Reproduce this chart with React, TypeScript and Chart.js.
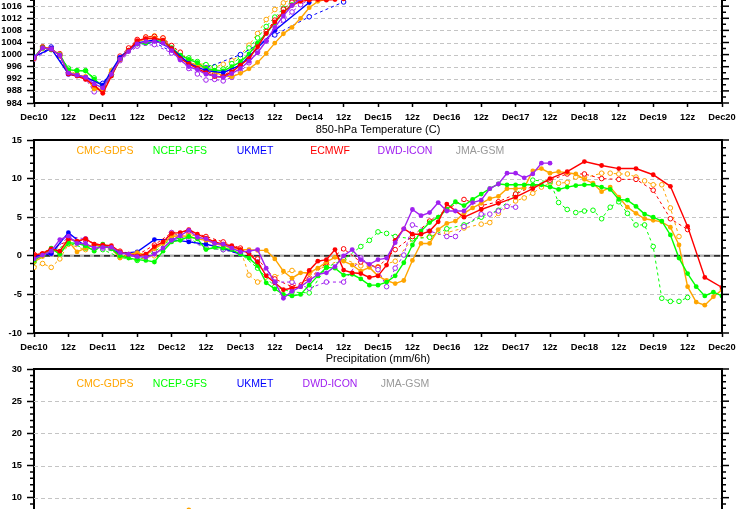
import React, { useEffect, useRef } from 'react';
import { Chart, registerables } from 'chart.js';

Chart.register(...registerables);

const _ = null;
const FONT = "'Liberation Sans', Arial, Helvetica, sans-serif";

// ---------- axis / legend text ----------
const TICK_LABELS = ['Dec10', '12z', 'Dec11', '12z', 'Dec12', '12z', 'Dec13', '12z', 'Dec14', '12z', 'Dec15', '12z', 'Dec16', '12z', 'Dec17', '12z', 'Dec18', '12z', 'Dec19', '12z', 'Dec20'];
const TEMP_TITLE = '850-hPa Temperature (C)';
const PRECIP_TITLE = 'Precipitation (mm/6h)';
const MODEL_NAMES = ['CMC-GDPS', 'NCEP-GFS', 'UKMET', 'ECMWF', 'DWD-ICON', 'JMA-GSM'];
const MODEL_COLORS = ['#FFA500', '#00FF00', '#0000FF', '#FF0000', '#A020F0', '#999999'];
const PRECIP_MODELS = ['CMC-GDPS', 'NCEP-GFS', 'UKMET', 'DWD-ICON', 'JMA-GSM'];
const PRECIP_COLORS = ['#FFA500', '#00FF00', '#0000FF', '#A020F0', '#999999'];

// ---------- sea-level pressure (hPa), 3-hourly from Dec10 00z ----------
const P_CMC = [998.6, 1002.5, 1001.8, 1000.0, 994.2, 993.2, 992.8, 988.6, 988.2, 994.8, 998.3, 1001.5, 1004.2, 1005.2, 1005.5, 1004.8, 1001.8, 999.0, 997.4, 996.5, 995.5, 994.3, 993.0, 992.7, 993.8, 995.3, 997.4, 1000.4, 1003.8, 1006.9, 1009.0, 1012.0, 1015.5, 1017.6, 1018.3];
const P_CMC_PREV = [998.8, 1002.0, 1002.0, 999.5, 994.8, 993.5, 992.3, 989.0, 988.8, 994.0, 999.0, 1001.8, 1004.5, 1005.8, 1006.2, 1005.5, 1002.8, 1000.0, 998.5, 997.2, 996.5, 995.8, 996.8, 998.0, 999.8, 1003.1, 1007.0, 1011.6, 1014.9, 1017.1, 1018.4];
const P_GFS = [999.0, 1002.5, 1001.5, 1000.0, 995.0, 994.7, 994.6, 991.9, 989.5, 993.0, 998.5, 1001.3, 1003.5, 1003.9, 1004.6, 1004.5, 1002.3, 999.8, 998.4, 997.3, 995.4, 994.9, 994.6, 996.0, 997.6, 1000.2, 1003.9, 1007.0, 1010.5, 1014.0, 1016.5, 1018.2];
const P_GFS_PREV = [998.8, 1002.2, 1001.8, 999.8, 995.5, 994.7, 994.7, 992.3, 989.5, 993.5, 999.0, 1001.8, 1003.2, 1003.8, 1004.2, 1004.2, 1002.0, 1000.0, 998.9, 997.7, 996.7, 996.0, 995.2, 997.0, 999.0, 1002.2, 1005.5, 1009.3, 1012.4, 1015.3, 1017.7, 1018.8];
const P_ECMWF = [998.7, 1002.3, 1001.7, 999.8, 993.6, 992.9, 991.8, 989.9, 987.2, 992.9, 998.4, 1001.5, 1004.6, 1005.3, 1005.3, 1004.8, 1002.0, 998.7, 996.9, 995.4, 994.0, 992.7, 992.7, 994.3, 996.5, 998.7, 1002.6, 1007.0, 1010.8, 1014.1, 1016.3, 1017.6, 1018.0, 1018.2, 1018.0, 1018.2, 1018.4];
const P_ECMWF_PREV = [998.9, 1002.6, 1002.0, 1000.3, 994.0, 993.3, 992.2, 989.6, 988.0, 993.5, 999.5, 1002.2, 1005.0, 1005.8, 1006.0, 1005.5, 1003.0, 1000.8, 998.0, 996.0, 994.5, 993.5, 993.0, 994.8, 997.0, 999.5, 1003.5, 1007.6, 1011.4, 1015.0, 1017.3, 1018.5];
const P_ICON = [998.9, 1002.2, 1001.8, 999.8, 993.9, 993.2, 992.5, 990.3, 989.0, 993.5, 998.5, 1001.0, 1003.5, 1004.3, 1004.3, 1003.8, 1001.3, 998.2, 996.0, 995.0, 993.5, 993.0, 992.4, 993.7, 995.4, 997.8, 1000.6, 1004.5, 1009.0, 1012.8, 1016.2, 1018.5];
const P_ICON_PREV = [998.5, _, 1002.0, _, 993.5, _, 992.0, 987.7, 988.5, _, 998.0, _, 1002.8, _, 1003.3, _, 1000.5, 998.5, 995.4, 993.6, 991.6, 991.8, 991.3, 992.5, 994.3, 997.3, 1000.9, 1004.5, 1008.0, 1011.4, 1014.1, 1016.5, 1018.2];
// UKMET is 6-hourly
const P_UKMET = [999.3, 1002.0, 993.6, 992.5, 989.9, 999.1, 1003.9, 1004.8, 1002.0, 997.1, 994.7, 994.0, 996.5, _, 1008.0, _, 1017.2];
const P_UKMET_PREV = [999.0, 1002.5, 994.0, 992.3, 990.5, 998.5, 1003.3, 1004.0, 1001.0, 997.0, 995.6, _, 1000.0, _, 1006.5, _, 1012.5, _, 1017.4];

// ---------- 850-hPa temperature (C), 3-hourly from Dec10 00z ----------
const T_CMC = [-0.8, -0.1, 0.9, 0.3, 1.9, 0.5, 1.0, 1.5, 1.2, 1.0, -0.3, 0.2, 0.4, 0.1, 0.9, 1.6, 2.5, 2.6, 2.5, 2.2, 2.0, 1.6, 1.3, 1.0, 0.8, 0.8, 0.7, 0.7, -0.4, -2.0, -2.9, -2.2, -2.2, -1.6, -0.8, -0.2, -0.7, -1.2, -2.0, -1.5, -2.6, -3.2, -3.6, -3.2, -0.6, 1.6, 1.6, 3.4, 4.2, 4.5, 5.5, 6.2, 6.8, 7.4, 7.7, 8.7, 8.7, 8.8, 11.0, 11.3, 10.7, 10.9, 10.75, 10.6, 9.9, 9.4, 8.3, 8.9, 7.6, 6.3, 5.5, 4.8, 4.6, 4.4, 3.7, 1.4, -4.0, -6.0, -6.4, -5.3, -4.4];
const T_CMC_PREV = [-1.5, -1.0, -1.5, -0.4, 1.5, _, 0.8, _, 1.3, _, 0.0, _, -0.5, _, 0.0, _, 2.7, _, 2.8, _, 2.2, _, 1.5, _, 0.8, -2.5, -3.4, _, -2.7, _, -1.9, _, -2.3, _, -1.3, _, -0.4, _, -1.3, _, -1.4, _, -0.7, _, 2.2, _, 2.5, _, 3.0, _, 3.6, _, 4.1, 4.3, 5.5, _, 7.1, 7.5, 8.1, 8.9, 9.4, 9.4, 9.5, 10.2, 10.1, _, 10.7, 10.7, 10.6, 10.6, 10.2, 9.7, 9.2, 9.2, 6.2, 2.5];
const T_GFS = [-0.6, 0.1, 1.0, 0.2, 1.7, 1.6, 1.3, 0.6, 1.5, 0.9, 0.0, -0.3, -0.5, -0.6, -0.8, 0.6, 1.8, 2.0, 2.5, 2.2, 0.8, 1.1, 1.0, 0.8, 0.2, -0.3, -1.3, -3.5, -4.3, -5.0, -5.2, -5.0, -3.8, -2.6, -1.5, -1.6, -2.5, -2.4, -3.0, -3.8, -3.8, -3.4, -2.6, -0.9, 1.4, 3.2, 4.3, 5.0, 6.0, 7.0, 6.5, 7.3, 8.0, 8.7, 9.3, 9.2, 9.2, 9.2, 9.2, 9.2, 8.9, 8.6, 8.9, 9.1, 9.2, 9.2, 8.9, 8.6, 7.3, 7.2, 6.4, 5.4, 5.0, 4.5, 2.7, -0.3, -2.3, -4.0, -5.2, -4.7, -5.2];
const T_GFS_PREV = [-0.8, _, 0.5, _, 1.6, _, 1.0, _, 0.8, _, -0.2, _, -0.6, _, 0.5, _, 2.2, _, 2.3, _, 1.0, _, 0.8, _, 0.3, _, -1.6, _, -4.0, _, -4.7, _, -4.8, _, -1.5, _, -0.5, _, 1.2, 2.0, 3.1, 2.9, 2.5, _, 2.2, _, 2.4, _, 3.5, _, 4.0, _, 5.0, _, 5.9, _, 8.0, _, 9.8, _, 9.6, 6.9, 6.0, 5.6, 5.8, 5.9, 4.8, 6.3, 7.0, 5.5, 4.0, 4.0, 1.2, -5.5, -5.9, -5.9, -5.4];
const T_ECMWF = [0.1, 0.3, 0.9, 0.6, 2.2, 1.9, 2.2, 1.5, 1.4, 1.3, 0.5, 0.2, 0.0, 0.2, 1.2, 1.8, 2.9, 3.0, 3.4, 2.8, 2.3, 1.8, 1.5, 1.3, 0.8, 0.3, -0.8, -2.6, -3.5, -4.4, -4.2, -4.0, -1.9, -0.7, -0.5, 0.8, -1.85, -2.2, -2.3, -2.8, -2.6, -1.2, 2.0, 3.5, 2.8, 2.8, 3.2, 4.4, 6.7, _, 5.0, _, 6.0, _, 6.8, _, 7.6, _, 8.7, _, 10.0, _, 10.9, _, 12.2, _, 11.7, _, 11.3, _, 11.3, _, 10.5, _, 9.0, _, 3.8, _, -2.8, _, -4.1];
// previous ECMWF run, 6-hourly
const T_ECMWF_PREV = [0.2, 0.8, 2.0, 2.0, 1.3, 0.6, 0.1, 1.4, 3.0, 3.2, 2.5, 1.8, 1.0, -0.4, -3.0, -4.0, -3.0, -0.9, 0.9, -0.8, -1.5, 0.8, 2.5, 4.5, 6.0, 7.3, 6.5, 7.0, 8.0, 9.0, 9.8, 10.6, 10.6, 10.0, 9.9, 9.9, 8.5, 4.8, 3.4];
const T_ICON = [-0.4, 0.1, 0.6, 2.1, 2.55, 1.6, 1.6, 1.0, 1.1, 1.1, 0.4, 0.2, -0.1, -0.2, 0.2, 1.0, 2.0, 2.6, 3.3, 2.4, 2.2, 1.6, 1.5, 1.0, 0.5, 0.6, 0.8, -1.6, -3.4, -5.5, -4.6, -4.0, -3.2, -2.4, -2.2, -1.4, 0.0, 0.8, -0.5, -1.1, -0.5, -0.3, 1.7, 3.5, 6.0, 5.2, 5.6, 6.9, 5.8, 5.8, 5.8, 6.9, 7.2, 8.7, 9.3, 10.7, 10.7, 10.1, 10.6, 12.0, 12.0];
const T_ICON_PREV = [-0.2, _, 0.3, _, 2.5, _, 2.2, _, 1.0, _, 0.3, _, -0.2, _, 0.7, _, 3.0, _, 2.0, _, 1.0, _, 0.8, _, 0.2, _, -0.8, _, -3.4, _, -3.4, _, -4.2, _, -3.4, _, -3.4, _, -0.3, _, -1.8, -4.0, -1.6, 0.1, 4.0, _, 3.2, _, 2.5, 2.5, 3.8, _, 5.4, 5.4, 5.8, 6.4, 6.3];
// UKMET is 6-hourly
const T_UKMET = [-0.1, 0.3, 3.0, 1.2, 1.4, 0.3, 0.5, 2.1, 2.1, 1.8, 1.5, 1.0, 0.2];

// ---------- precipitation (mm/6h), 6-hourly ----------
const PRECIP_CMC = [_, _, _, _, _, _, _, _, _, 8.1];

type V = number | null;
function pts(vals: V[], stepHours: number) {
  const out: { x: number; y: number }[] = [];
  vals.forEach((v, i) => {
    if (v !== null && v !== undefined) out.push({ x: i * stepHours, y: v });
  });
  return out;
}

function solid(label: string, color: string, vals: V[], step: number) {
  return {
    label,
    data: pts(vals, step),
    borderColor: color,
    backgroundColor: color,
    borderWidth: 1.4,
    pointRadius: 2.4,
    pointBackgroundColor: color,
    pointBorderColor: color,
    pointBorderWidth: 0,
    tension: 0,
    fill: false,
  };
}

function dashed(label: string, color: string, vals: V[], step: number) {
  return {
    label,
    data: pts(vals, step),
    borderColor: color,
    backgroundColor: '#ffffff',
    borderWidth: 1,
    borderDash: [3, 3],
    pointRadius: 2.3,
    pointBackgroundColor: '#ffffff',
    pointBorderColor: color,
    pointBorderWidth: 1,
    tension: 0,
    fill: false,
  };
}

// bottom -> top drawing order
function ordered(list: any[]) {
  return list.map((d, i) => ({ ...d, order: list.length - i }));
}

const [C_CMC, C_GFS, C_UK, C_EC, C_ICON] = MODEL_COLORS;

const pressureSets = ordered([
  dashed('CMC-GDPS prev', C_CMC, P_CMC_PREV, 3),
  dashed('NCEP-GFS prev', C_GFS, P_GFS_PREV, 3),
  dashed('UKMET prev', C_UK, P_UKMET_PREV, 6),
  dashed('ECMWF prev', C_EC, P_ECMWF_PREV, 3),
  dashed('DWD-ICON prev', C_ICON, P_ICON_PREV, 3),
  solid('CMC-GDPS', C_CMC, P_CMC, 3),
  solid('NCEP-GFS', C_GFS, P_GFS, 3),
  solid('UKMET', C_UK, P_UKMET, 6),
  solid('ECMWF', C_EC, P_ECMWF, 3),
  solid('DWD-ICON', C_ICON, P_ICON, 3),
]);

const tempSets = ordered([
  dashed('CMC-GDPS prev', C_CMC, T_CMC_PREV, 3),
  dashed('NCEP-GFS prev', C_GFS, T_GFS_PREV, 3),
  dashed('ECMWF prev', C_EC, T_ECMWF_PREV, 6),
  dashed('DWD-ICON prev', C_ICON, T_ICON_PREV, 3),
  solid('UKMET', C_UK, T_UKMET, 6),
  solid('CMC-GDPS', C_CMC, T_CMC, 3),
  solid('NCEP-GFS', C_GFS, T_GFS, 3),
  solid('ECMWF', C_EC, T_ECMWF, 3),
  solid('DWD-ICON', C_ICON, T_ICON, 3),
]);

const precipSets = ordered([solid('CMC-GDPS', C_CMC, PRECIP_CMC, 6)]);

// ---------- plugins: frame / gridlines / minor ticks, and in-plot legend text ----------
const framePlugin = {
  id: 'frame',
  beforeDatasetsDraw(chart: any, _a: any, opts: any) {
    const { ctx, chartArea: a } = chart;
    const y = chart.scales.y;
    ctx.save();
    ctx.lineWidth = 1;
    ctx.strokeStyle = '#c4c4c4';
    ctx.setLineDash([4, 3]);
    for (const t of y.ticks) {
      if (t.value <= y.min || t.value >= y.max) continue;
      if (opts.zeroLine && t.value === 0) continue;
      const py = Math.round(y.getPixelForValue(t.value)) + 0.5;
      ctx.beginPath();
      ctx.moveTo(a.left, py);
      ctx.lineTo(a.right, py);
      ctx.stroke();
    }
    if (opts.zeroLine) {
      const py = y.getPixelForValue(0);
      ctx.setLineDash([]);
      ctx.strokeStyle = '#b4b4b4';
      ctx.lineWidth = 2.5;
      ctx.beginPath();
      ctx.moveTo(a.left, py);
      ctx.lineTo(a.right, py);
      ctx.stroke();
      ctx.setLineDash([6, 4]);
      ctx.strokeStyle = '#000';
      ctx.lineWidth = 1.2;
      ctx.beginPath();
      ctx.moveTo(a.left, py);
      ctx.lineTo(a.right, py);
      ctx.stroke();
    }
    ctx.restore();
  },
  afterDraw(chart: any, _a: any, opts: any) {
    const { ctx, chartArea: a } = chart;
    const y = chart.scales.y;
    ctx.save();
    ctx.strokeStyle = '#000';
    ctx.lineWidth = 2;
    ctx.beginPath();
    ctx.moveTo(a.left - 1, a.top);
    ctx.lineTo(a.right, a.top);
    ctx.lineTo(a.right, a.bottom + 1);
    ctx.stroke();
    ctx.lineWidth = 1.5;
    const major = y.options.ticks.stepSize;
    const minor = opts.minor;
    const n = Math.round((y.max - y.min) / minor);
    for (let k = 0; k <= n; k++) {
      const v = y.min + k * minor;
      const py = y.getPixelForValue(v);
      const r = v / major;
      const isMajor = Math.abs(r - Math.round(r)) < 1e-6;
      ctx.beginPath();
      if (isMajor) {
        ctx.moveTo(a.right, py);
        ctx.lineTo(a.right + 7, py);
      } else {
        ctx.moveTo(a.left - 4, py);
        ctx.lineTo(a.left, py);
        ctx.moveTo(a.right, py);
        ctx.lineTo(a.right + 4, py);
      }
      ctx.stroke();
    }
    ctx.restore();
  },
};

const legendTextPlugin = {
  id: 'legendText',
  afterDatasetsDraw(chart: any, _a: any, opts: any) {
    if (!opts || !opts.labels || !opts.labels.length) return;
    const { ctx, chartArea: a } = chart;
    ctx.save();
    ctx.font = `10.5px ${FONT}`;
    ctx.textAlign = 'center';
    ctx.textBaseline = 'middle';
    opts.labels.forEach((t: string, k: number) => {
      ctx.fillStyle = opts.colors[k];
      ctx.fillText(t, a.left + 71 + 75 * k, a.top + opts.dy);
    });
    ctx.restore();
  },
};

type Opt = {
  datasets: any[];
  yMin: number;
  yMax: number;
  yStep: number;
  minor: number;
  title?: string;
  zeroLine?: boolean;
  legend?: string[];
  legendColors?: string[];
  legendDy?: number;
  padTop: number;
  xHeight: number;
};

function makeConfig(o: Opt): any {
  const tickFont = { family: FONT, size: 9.3, weight: 'bold' as const };
  return {
    type: 'line',
    data: { datasets: o.datasets },
    options: {
      responsive: false,
      animation: false,
      events: [],
      layout: { padding: { top: o.padTop, right: 14, left: 0, bottom: 0 } },
      plugins: {
        legend: { display: false },
        tooltip: { enabled: false },
        title: o.title
          ? {
              display: true,
              text: o.title,
              fullSize: false,
              color: '#000',
              font: { family: FONT, size: 11, weight: 'normal' },
              padding: { top: 13.8, bottom: 3 },
            }
          : { display: false },
        frame: { minor: o.minor, zeroLine: !!o.zeroLine },
        legendText: { labels: o.legend || [], colors: o.legendColors || [], dy: o.legendDy || 0 },
      },
      scales: {
        x: {
          type: 'linear',
          min: 0,
          max: 240,
          afterFit: (s: any) => {
            s.height = o.xHeight;
            s.paddingLeft = 0;
            s.paddingRight = 0;
          },
          grid: { display: true, drawOnChartArea: false, drawTicks: true, tickLength: 4, tickColor: '#000', tickWidth: 1.5 },
          border: { display: true, color: '#000', width: 2 },
          ticks: {
            stepSize: 12,
            maxTicksLimit: 100,
            autoSkip: false,
            maxRotation: 0,
            minRotation: 0,
            padding: 5,
            color: '#000',
            font: tickFont,
            callback: (v: number) => TICK_LABELS[Math.round(v / 12)] ?? '',
          },
        },
        y: {
          type: 'linear',
          min: o.yMin,
          max: o.yMax,
          afterFit: (s: any) => {
            s.width = 34;
            s.paddingTop = 0;
            s.paddingBottom = 0;
          },
          grid: { display: true, drawOnChartArea: false, drawTicks: true, tickLength: 7, tickColor: '#000', tickWidth: 1.5 },
          border: { display: true, color: '#000', width: 2 },
          ticks: {
            stepSize: o.yStep,
            maxTicksLimit: 100,
            autoSkip: false,
            padding: 5,
            color: '#000',
            font: tickFont,
            callback: (v: number) => String(v),
          },
        },
      },
      elements: { line: { tension: 0 } },
    },
    plugins: [framePlugin, legendTextPlugin],
  };
}

export default function App() {
  const r1 = useRef<HTMLCanvasElement>(null);
  const r2 = useRef<HTMLCanvasElement>(null);
  const r3 = useRef<HTMLCanvasElement>(null);

  useEffect(() => {
    document.body.style.margin = '0';
    const charts: Chart[] = [];
    charts.push(
      new Chart(
        r1.current as HTMLCanvasElement,
        makeConfig({ datasets: pressureSets, yMin: 984, yMax: 1024, yStep: 4, minor: 2, padTop: 12, xHeight: 27 })
      )
    );
    charts.push(
      new Chart(
        r2.current as HTMLCanvasElement,
        makeConfig({
          datasets: tempSets,
          yMin: -10,
          yMax: 15,
          yStep: 5,
          minor: 1,
          title: TEMP_TITLE,
          zeroLine: true,
          legend: MODEL_NAMES,
          legendColors: MODEL_COLORS,
          legendDy: 11,
          padTop: 0,
          xHeight: 24,
        })
      )
    );
    charts.push(
      new Chart(
        r3.current as HTMLCanvasElement,
        makeConfig({
          datasets: precipSets,
          yMin: 0,
          yMax: 30,
          yStep: 5,
          minor: 1,
          title: PRECIP_TITLE,
          legend: PRECIP_MODELS,
          legendColors: PRECIP_COLORS,
          legendDy: 15,
          padTop: 0,
          xHeight: 24,
        })
      )
    );
    return () => charts.forEach((c) => c.destroy());
  }, []);

  return (
    <div style={{ position: 'fixed', left: 0, top: 0, width: 736, height: 509, overflow: 'hidden', background: '#fff' }}>
      <canvas ref={r1} width={736} height={160} style={{ position: 'absolute', left: 0, top: -30 }} />
      <canvas ref={r2} width={736} height={247} style={{ position: 'absolute', left: 0, top: 110 }} />
      <canvas ref={r3} width={736} height={247} style={{ position: 'absolute', left: 0, top: 339 }} />
    </div>
  );
}
